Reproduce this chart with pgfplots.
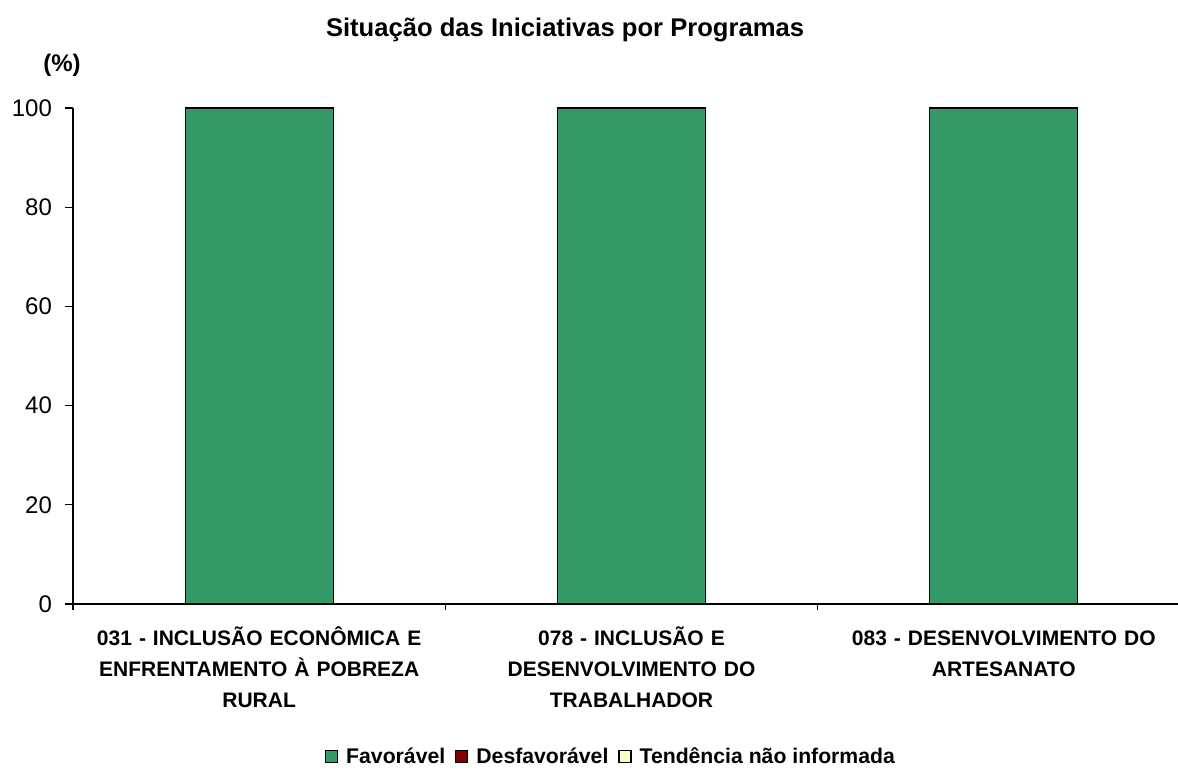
\documentclass[border=0pt]{standalone}
\usepackage{pgfplots}
\pgfplotsset{compat=1.18}
\usepackage{fontspec}
\setmainfont{Liberation Sans}
\definecolor{fav}{HTML}{339966}
\definecolor{desf}{HTML}{800000}
\definecolor{tend}{HTML}{FFFFCC}
\begin{document}
\begin{tikzpicture}
\path[use as bounding box] (0,0) rectangle (589pt,385.5pt);
\begin{axis}[
  at={(36.5pt,83.5pt)}, anchor=south west,
  scale only axis,
  width=558.5pt, height=248pt,
  ybar stacked, bar width=74pt,
  xmin=-0.5, xmax=2.5, ymin=0, ymax=100,
  axis x line*=bottom, axis y line*=left,
  axis line style={line width=0.6pt},
  xtick={0,1,2},
  major x tick style={draw=none},
  extra x ticks={-0.5,0.5,1.5,2.5},
  extra x tick labels={},
  extra x tick style={major x tick style={draw=black, line width=0.6pt}, major tick length=3pt},
  xticklabels={{031 - INCLUSÃO ECONÔMICA E\\ENFRENTAMENTO À POBREZA\\RURAL},{078 - INCLUSÃO E\\DESENVOLVIMENTO DO\\TRABALHADOR},{083 - DESENVOLVIMENTO DO\\ARTESANATO}},
  xticklabel style={font=\fontsize{10.5}{15.5}\selectfont\bfseries, align=center, text width=190pt, yshift=-3pt, execute at begin node={\rule{0pt}{10pt}}},
  ytick={0,20,...,100},
  ytick style={black, line width=0.6pt},
  major tick length=4pt,
  tick align=outside,
  yticklabel style={font=\fontsize{12}{14}\selectfont, xshift=-3pt},
  /pgf/number format/assume math mode=true,
  legend style={draw=none, at={(rel axis cs:0.4825,-0.308)}, anchor=center, legend columns=-1, font=\fontsize{10.6}{13}\selectfont\bfseries, /tikz/every odd column/.append style={column sep=2pt}, /tikz/every even column/.append style={column sep=3pt}},
  legend image code/.code={\draw[#1, draw=black, line width=0.6pt] (0pt,-3pt) rectangle (6pt,3pt);},
  clip=false,
]
\addplot[fill=fav, draw=black, line width=0.6pt] coordinates {(0,100) (1,100) (2,100)};
\addplot[fill=desf, draw=black, line width=0.6pt] coordinates {(0,0) (1,0) (2,0)};
\addplot[fill=tend, draw=black, line width=0.6pt] coordinates {(0,0) (1,0) (2,0)};
\legend{Favorável, Desfavorável, Tendência não informada}
\node[font=\fontsize{12}{14}\selectfont\bfseries] at (rel axis cs:-0.0098,1.0867) {(\%)};
\node[font=\fontsize{12.8}{15}\selectfont\bfseries] at (rel axis cs:0.4405,1.158) {Situação das Iniciativas por Programas};
\end{axis}
\end{tikzpicture}
\end{document}
